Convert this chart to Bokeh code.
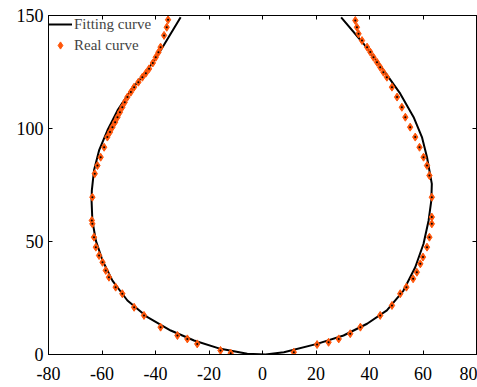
from bokeh.plotting import figure
from bokeh.models import LinearAxis, Range1d, FixedTicker, Legend, LegendItem, CustomJSTickFormatter
from bokeh.embed import file_html
from bokeh.resources import INLINE

# Fitting curve (black line), traced from left top, down through the bottom, up to right top
fit_x = [-30.6, -38.1, -43.0, -49.3, -54.2, -58.0, -61.1, -63.0, -63.8, -63.9, -63.6, -62.3,
         -59.8, -56.1, -50.5, -43.0, -34.3, -25.6, -15.7, -5.7, 1.1, 8.0, 20.4, 30.3, 39.1,
         46.5, 52.7, 57.1, 60.2, 62.1, 63.1, 63.3, 61.5, 59.6, 56.5, 51.5, 45.3, 37.8, 29.4]
fit_y = [149.2, 134.5, 125.7, 116.8, 108.0, 99.1, 90.3, 81.4, 72.6, 68.1, 59.3, 50.4,
         41.6, 32.7, 23.9, 16.5, 10.6, 6.2, 2.5, 0.3, 0.0, 1.0, 4.7, 8.4, 13.6,
         19.5, 28.3, 38.6, 49.0, 59.3, 68.1, 75.5, 87.3, 96.2, 105.0, 115.4, 125.7, 137.5, 149.2]

# Real curve (orange diamonds)
real_x = [-35.3, -35.8, -36.8, -38.1, -38.9, -39.9, -41.0, -42.4, -43.6, -44.9, -46.4, -48.0,
          -49.2, -50.5, -51.5, -52.4, -53.3, -54.2, -55.1, -56.1, -57.0, -58.0, -59.2, -60.5,
          -61.7, -62.7, -63.6, -63.8, -63.6, -63.0, -62.3, -61.1, -59.8, -58.6, -57.4, -54.9,
          -52.4, -48.0, -44.3, -38.1, -31.8, -28.1, -24.4, -15.7, -11.9,
          11.7, 20.4, 24.7, 28.5, 32.8, 36.6, 44.0, 48.4, 51.5, 53.8, 56.3, 57.7, 59.0, 60.0,
          61.5, 62.4, 63.3, 63.3, 63.3, 62.4, 61.5, 60.2, 58.7, 57.1, 55.2, 53.4, 52.1, 50.3,
          48.4, 46.5, 45.2, 44.0, 42.8, 41.5, 40.3, 39.1, 37.2, 35.9, 35.3, 34.7]
real_y = [148.1, 144.8, 141.2, 136.0, 133.7, 131.5, 129.0, 126.4, 124.5, 122.7, 120.5, 118.3,
          116.1, 113.9, 111.6, 109.4, 107.2, 105.0, 102.8, 100.6, 98.4, 96.2, 91.7, 87.3,
          83.6, 80.0, 69.6, 59.3, 57.8, 51.9, 47.5, 43.8, 40.8, 37.2, 34.2, 29.8,
          26.9, 20.9, 17.3, 12.1, 8.4, 6.9, 4.7, 1.8, 0.6,
          1.0, 4.4, 5.4, 6.9, 9.2, 12.1, 17.3, 21.7, 26.9, 29.8, 33.5, 36.4, 40.1, 43.1,
          47.5, 51.9, 57.8, 60.8, 69.6, 79.2, 83.6, 87.3, 91.7, 96.2, 100.6, 105.0, 109.4, 113.9,
          118.3, 122.7, 124.9, 127.1, 129.3, 131.5, 133.8, 136.0, 138.9, 141.9, 144.8, 147.8]

x_ticks = [-80, -60, -40, -20, 0, 20, 40, 60, 80]
x_labels = ["-80", "-60", "-40", "-20", "0", "20", "40", "60", "80"]
y_ticks = [0, 50, 100, 150]
y_labels = ["0", "50", "100", "150"]

FONT = "Liberation Serif"
ORANGE = "#FF560A"

p = figure(width=477, height=387, output_backend="svg", toolbar_location=None,
           x_range=Range1d(-80, 80), y_range=Range1d(0, 150),
           min_border_left=48, min_border_right=1, min_border_top=15, min_border_bottom=33,
           x_axis_location=None, y_axis_location=None)
p.xgrid.visible = False
p.ygrid.visible = False
p.outline_line_color = "black"
p.outline_line_width = 1
p.background_fill_color = "white"
p.border_fill_color = "white"

def style_axis(ax, ticks, labels=None):
    ax.ticker = FixedTicker(ticks=ticks)
    ax.axis_line_color = "black"
    ax.major_tick_line_color = "black"
    ax.major_tick_in = 4
    ax.major_tick_out = 0
    ax.minor_tick_line_color = None
    ax.major_label_text_font = FONT
    ax.major_label_text_color = "black"
    ax.major_label_text_font_size = "18px"
    if labels is not None:
        ax.major_label_overrides = dict(zip(ticks, labels))
    else:
        ax.formatter = CustomJSTickFormatter(code="return '';")
        ax.major_label_standoff = 0

xb = LinearAxis()
style_axis(xb, x_ticks, x_labels)
xb.major_label_standoff = 12
p.add_layout(xb, "below")
yl = LinearAxis()
style_axis(yl, y_ticks, y_labels)
yl.major_label_standoff = 5
p.add_layout(yl, "left")
xa = LinearAxis()
style_axis(xa, x_ticks)
p.add_layout(xa, "above")
yr = LinearAxis()
style_axis(yr, y_ticks)
p.add_layout(yr, "right")

fit = p.line(fit_x, fit_y, line_color="black", line_width=2)
real = p.scatter(real_x, real_y, marker="diamond", size=8, fill_color=ORANGE,
                 line_color=ORANGE)
p.scatter(real_x, real_y, marker="circle", size=2, fill_color="black", line_color=None)

legend = Legend(items=[LegendItem(label="Fitting curve", renderers=[fit]),
                       LegendItem(label="Real curve", renderers=[real])],
                location="top_left")
legend.border_line_color = None
legend.background_fill_alpha = 0
legend.margin = 0
legend.padding = 3
legend.spacing = 3
legend.label_text_font = FONT
legend.label_text_font_size = "15px"
legend.label_height = 18
legend.glyph_height = 18
legend.glyph_width = 24
legend.label_standoff = 2
legend.padding = 6
p.add_layout(legend)

open("out.html", "w").write(file_html(p, INLINE))
